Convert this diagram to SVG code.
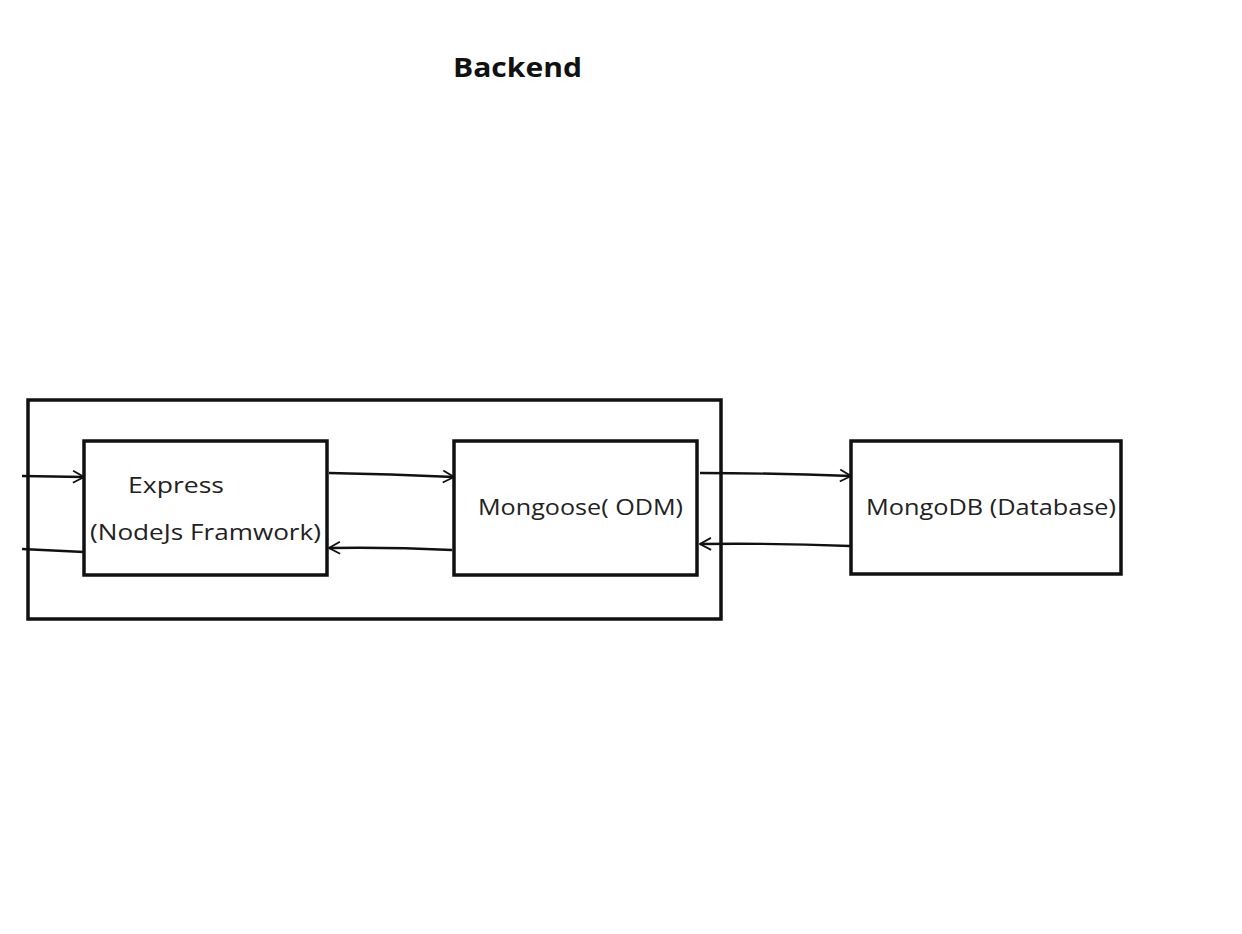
<svg xmlns="http://www.w3.org/2000/svg" width="1242" height="934" viewBox="0 0 1242 934">
<style>
.box{fill:#fff;stroke:#111;stroke-width:3.5}
.frame{fill:none;stroke:#111;stroke-width:3.5}
.edge{fill:none;stroke:#111;stroke-width:2.3}
.lbl{font-family:"Open Sans","Liberation Sans",sans-serif;font-size:21px;fill:#222}
.title{font-family:"Open Sans","Liberation Sans",sans-serif;font-size:27px;font-weight:bold;fill:#111}
</style>
<defs>
<marker id="arr" viewBox="0 0 14 14" refX="13" refY="7" markerWidth="14" markerHeight="14" markerUnits="userSpaceOnUse" orient="auto">
<path d="M2,1 L13,7 L2,13" fill="none" stroke="#111" stroke-width="1.8"/>
</marker>
</defs>
<rect width="1242" height="934" fill="#fff"/>
<text class="title" x="453" y="77" textLength="129" lengthAdjust="spacingAndGlyphs">Backend</text>
<g id="backend-container">
<rect class="frame" x="28" y="400" width="693" height="219"/>
</g>
<g id="express">
<rect class="box" x="84" y="441" width="243" height="134"/>
<text class="lbl" x="128" y="493" textLength="96" lengthAdjust="spacingAndGlyphs">Express</text>
<text class="lbl" x="90" y="540" textLength="231" lengthAdjust="spacingAndGlyphs">(NodeJs Framwork)</text>
</g>
<g id="mongoose">
<rect class="box" x="454" y="441" width="243" height="134"/>
<text class="lbl" x="478" y="515" textLength="205" lengthAdjust="spacingAndGlyphs">Mongoose( ODM)</text>
</g>
<g id="mongodb">
<rect class="box" x="851" y="441" width="270" height="133"/>
<text class="lbl" x="866" y="515" textLength="250" lengthAdjust="spacingAndGlyphs">MongoDB (Database)</text>
</g>
<g id="connectors">
<path class="edge" d="M22,476 L84,477" marker-end="url(#arr)"/>
<path class="edge" d="M84,552 L22,549"/>
<path class="edge" d="M329,473 Q390,474 454,477" marker-end="url(#arr)"/>
<path class="edge" d="M452,550 Q390,547 329,548" marker-end="url(#arr)"/>
<path class="edge" d="M700,473 Q775,473 851,476" marker-end="url(#arr)"/>
<path class="edge" d="M850,546 Q775,543 700,544" marker-end="url(#arr)"/>
</g>
</svg>
